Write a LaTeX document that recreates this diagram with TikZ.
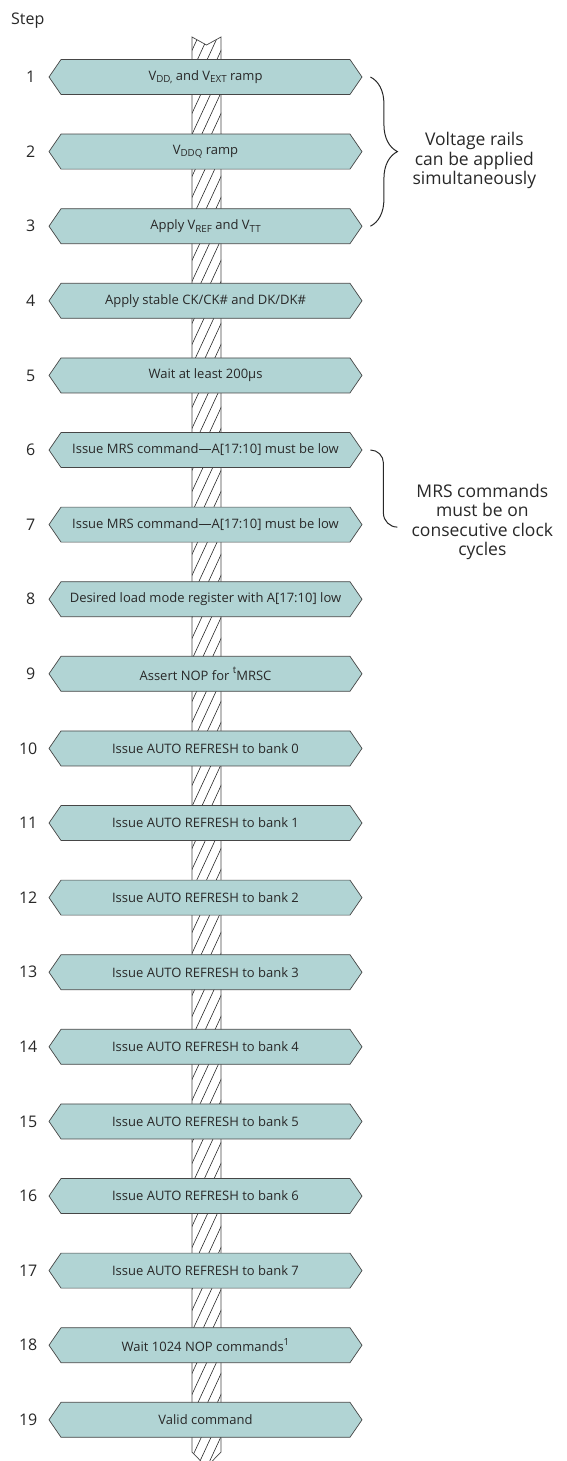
\documentclass[tikz,border=0pt]{standalone}
\usepackage{fontspec}
\setmainfont{Open Sans}
\usetikzlibrary{positioning, shapes.symbols, decorations.pathreplacing, calc}

\definecolor{stepfill}{RGB}{177,212,212}
\definecolor{stepline}{RGB}{70,70,70}
\definecolor{inktext}{RGB}{40,40,40}

\newcommand{\lowidx}[1]{\raisebox{-0.35ex}{\fontsize{9.8}{10}\selectfont #1}}
\newcommand{\highidx}[1]{\raisebox{0.9ex}{\fontsize{9.8}{10}\selectfont #1}}

\begin{document}
\begin{tikzpicture}[
    x=1pt, y=1pt,
    node distance=38.9pt,
    stepbox/.style={signal, signal to=west and east, signal pointer angle=111, draw=stepline, fill=stepfill, line width=0.7pt, minimum width=313pt, minimum height=35pt, inner sep=0pt, font=\fontsize{13}{15}\selectfont, text=inktext},
    stepnum/.style={anchor=east, inner sep=0pt, font=\fontsize{16}{18}\selectfont, text=inktext},
    note/.style={align=center, inner sep=0pt, font=\fontsize{17.5}{19.5}\selectfont, text=inktext},
    bracepen/.style={line width=1pt, draw=inktext},
    hatchpen/.style={line width=0.6pt, draw=inktext}
]
    \useasboundingbox (0,0) rectangle (566,-1461);

    % hatched strip behind the steps
    \fill[white] (192,-37) -- (206.5,-45) -- (221,-37) -- (221,-1452) -- (206.5,-1467) -- (192,-1452) -- cycle;
    \begin{scope}
        \clip (192,-37) -- (206.5,-45) -- (221,-37) -- (221,-1452) -- (206.5,-1467) -- (192,-1452) -- cycle;
        \foreach \h in {-42,-21,...,1470}
            \draw[hatchpen] (188,-\h-80) -- (225,-\h);
    \end{scope}
    \draw[line width=0.7pt, draw=stepline] (192,-37) -- (206.5,-45) -- (221,-37) -- (221,-1452) -- (206.5,-1467) -- (192,-1452) -- cycle;

    \node[anchor=base west, inner sep=0pt, font=\fontsize{16}{18}\selectfont, text=inktext] (steplabel) at (11,-25) {Step};

    \node[stepbox] (s1) at (205.5,-77) {V\lowidx{DD,} and V\lowidx{EXT} ramp};
    \node[stepbox, below=of s1] (s2) {V\lowidx{DDQ} ramp};
    \node[stepbox, below=of s2] (s3) {Apply V\lowidx{REF} and V\lowidx{TT}};
    \node[stepbox, below=of s3] (s4) {Apply stable CK/CK\# and DK/DK\#};
    \node[stepbox, below=of s4] (s5) {Wait at least 200µs};
    \node[stepbox, below=of s5] (s6) {Issue MRS command—A[17:10] must be low};
    \node[stepbox, below=of s6] (s7) {Issue MRS command—A[17:10] must be low};
    \node[stepbox, below=of s7] (s8) {Desired load mode register with A[17:10] low};
    \node[stepbox, below=of s8] (s9) {Assert NOP for \highidx{t}MRSC};
    \node[stepbox, below=of s9] (s10) {Issue AUTO REFRESH to bank 0};
    \node[stepbox, below=of s10] (s11) {Issue AUTO REFRESH to bank 1};
    \node[stepbox, below=of s11] (s12) {Issue AUTO REFRESH to bank 2};
    \node[stepbox, below=of s12] (s13) {Issue AUTO REFRESH to bank 3};
    \node[stepbox, below=of s13] (s14) {Issue AUTO REFRESH to bank 4};
    \node[stepbox, below=of s14] (s15) {Issue AUTO REFRESH to bank 5};
    \node[stepbox, below=of s15] (s16) {Issue AUTO REFRESH to bank 6};
    \node[stepbox, below=of s16] (s17) {Issue AUTO REFRESH to bank 7};
    \node[stepbox, below=of s17] (s18) {Wait 1024 NOP commands\highidx{1}};
    \node[stepbox, below=of s18] (s19) {Valid command};

    \node[stepnum, left=13pt of s1.west] (n1) {1};
    \node[stepnum, left=13pt of s2.west] (n2) {2};
    \node[stepnum, left=13pt of s3.west] (n3) {3};
    \node[stepnum, left=13pt of s4.west] (n4) {4};
    \node[stepnum, left=13pt of s5.west] (n5) {5};
    \node[stepnum, left=13pt of s6.west] (n6) {6};
    \node[stepnum, left=13pt of s7.west] (n7) {7};
    \node[stepnum, left=13pt of s8.west] (n8) {8};
    \node[stepnum, left=13pt of s9.west] (n9) {9};
    \node[stepnum, left=11pt of s10.west] (n10) {10};
    \node[stepnum, left=11pt of s11.west] (n11) {11};
    \node[stepnum, left=11pt of s12.west] (n12) {12};
    \node[stepnum, left=11pt of s13.west] (n13) {13};
    \node[stepnum, left=11pt of s14.west] (n14) {14};
    \node[stepnum, left=11pt of s15.west] (n15) {15};
    \node[stepnum, left=11pt of s16.west] (n16) {16};
    \node[stepnum, left=11pt of s17.west] (n17) {17};
    \node[stepnum, left=11pt of s18.west] (n18) {18};
    \node[stepnum, left=11pt of s19.west] (n19) {19};

    % voltage rails brace
    \coordinate (b1) at ($(s1.east)+(8,0)$);
    \coordinate (b3) at ($(s3.east)+(8,0)$);
    \coordinate (railtip) at ($(b1)!0.5!(b3)+(27,0)$);
    \draw[bracepen, decorate, decoration={brace, amplitude=27pt}] (b1) -- (b3);
    \node[note, right=15pt of railtip, yshift=-9pt] (rails) {Voltage rails\\can be applied\\simultaneously};

    % MRS hook
    \coordinate (m6) at ($(s6.east)+(8,0)$);
    \coordinate (m7) at ($(s7.east)+(35,-2.5)$);
    \draw[bracepen] (m6) arc[start angle=90, end angle=0, radius=13pt] -- ($(m7)+(-14,14)$) arc[start angle=180, end angle=270, radius=14pt];
    \node[note, right=14pt of m7, yshift=5pt] (mrs) {MRS commands\\must be on\\consecutive clock\\cycles};
\end{tikzpicture}
\end{document}
